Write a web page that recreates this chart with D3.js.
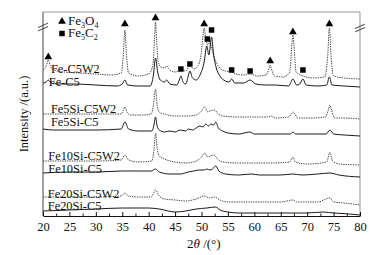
<!DOCTYPE html>
<html>
<head>
<meta charset="utf-8">
<script src="https://cdn.jsdelivr.net/npm/d3@7"></script>
<style>
  body { margin: 0; background: #fff; }
  svg { display: block; font-family: "Liberation Serif", "Times New Roman", serif; }
</style>
</head>
<body>
<svg width="377" height="255"></svg>
<script>
// XRD patterns, [2theta, intensity (a.u., stacked offset included)]
const feC5W2 = [[20,146],[20.6,150],[21,156],[21.4,150],[22,146],[24,144],[27,143],[30,142],[33,141],[34.8,143],[35.2,161],[35.5,186],[35.8,161],[36.2,143],[38,140],[40,142],[40.8,151],[41.1,176],[41.3,194],[41.5,176],[41.8,154],[42.3,149],[43,148],[43.4,150],[43.8,147],[45,144],[46.1,146],[47,145],[47.8,150],[48.6,147],[49.3,150],[49.9,161],[50.3,181],[50.5,188],[50.8,178],[51.2,171],[51.6,174],[52,166],[52.6,156],[53.3,149],[54.5,145],[55.7,144],[56.5,142],[58,141],[59.2,142],[60.5,140],[62.2,141],[62.7,146],[63,151],[63.3,146],[63.8,140],[65.5,139],[66.7,144],[67.1,171],[67.3,181],[67.5,171],[67.9,144],[69.2,140],[71,138],[73.3,139],[73.9,161],[74.2,188],[74.5,161],[75,140],[77,138],[80,137]];
const feC5 = [[20,133],[20.6,134],[21,136],[21.5,133],[23,132],[26,132],[30,131],[34,130],[35,132],[35.5,136],[36,131],[38,130],[40.3,130],[40.9,141],[41.3,158],[41.7,144],[42.2,136],[43,134],[43.4,136],[44,132],[45.3,131],[45.8,136],[46.1,140],[46.5,134],[47,132],[47.5,140],[47.8,145],[48.3,138],[49,136],[49.8,142],[50.5,154],[51,170],[51.4,161],[51.9,179],[52.3,161],[52.8,148],[53.5,140],[54.5,135],[55.2,134],[55.7,137],[56.3,133],[58,133],[59.2,136],[60.3,132],[62,131],[64,131],[66.5,130],[67.3,137],[68,131],[68.6,132],[69.2,137],[69.8,131],[72,130],[73.7,131],[74.2,139],[74.7,131],[77,130],[80,129]];
const fe5SiC5W2 = [[20,102],[25,102],[30,102],[34.8,102],[35.2,106],[35.5,109],[35.9,104],[36.5,101],[39,101],[40.5,102],[40.9,111],[41.3,127],[41.6,111],[42,104],[43,102],[45,100],[47,100],[49,101],[50,105],[50.6,109],[51.2,104],[51.6,105],[52.5,106],[53,103],[54,100],[57,99],[60,99],[62.5,99],[63.2,100],[64,98],[66.5,99],[67,102],[67.3,104],[67.7,102],[68.2,98],[71,98],[73.5,99],[74,106],[74.3,111],[74.6,106],[75.2,98],[77,98],[80,97]];
const fe5SiC5 = [[20,87],[22,86],[25,86],[30,86],[34.8,87],[35.5,94],[36.2,87],[38,85],[40.6,85],[41,91],[41.3,99],[41.6,90],[42,86],[43,84],[44,85],[45,84],[46,86],[47,85],[47.5,87],[48.3,86],[49,88],[49.7,90],[50.3,89],[50.8,92],[51.3,90],[51.8,92],[52.3,91],[52.7,94],[53.2,88],[54,85],[55,83],[57,82],[59.2,84],[60,82],[63,82],[66.8,82],[67.3,84],[67.8,82],[70,82],[73.6,82],[74.3,86],[75,82],[77,81],[80,80]];
const fe10SiC5W2 = [[20,55],[25,55],[30,55],[34.8,56],[35.5,61],[36.2,56],[38,54],[40.6,55],[41,66],[41.3,83],[41.6,68],[42,60],[43,57],[45,54],[47,53],[49,55],[50,59],[50.6,63],[51.2,59],[51.7,60],[52.4,61],[53,57],[54,54],[57,53],[60,53],[63,53],[66.7,54],[67.3,59],[67.8,54],[70,52],[73.7,54],[74.3,64],[74.8,55],[76,52],[80,51]];
const fe10SiC5 = [[20,43],[25,44],[30,44],[35,45],[38,45],[40.5,45],[41.3,47],[42,44],[44,42],[46,42],[47.5,44],[48.5,45],[49.5,46],[50.5,46],[51,47],[51.6,46],[52.1,47],[52.7,50],[53.3,45],[54.5,42],[57,41],[59.5,42],[61,41],[65,41],[67.3,42],[69,41],[72,42],[74.3,43],[76,41],[80,39]];
const fe20SiC5W2 = [[20,19],[25,19],[30,19],[34.8,20],[35.5,23],[36.2,20],[38,19],[40.5,19],[41.3,26],[42,20],[43,17],[45,16],[47,15],[49,17],[50.5,20],[51.5,18],[52.5,19],[53.5,16],[55,14],[60,14],[65,14],[67.3,16],[68,14],[72,14],[74.3,18],[75,14],[77,13],[80,11]];
const fe20SiC5 = [[20,5],[25,6],[30,7],[35,8],[38,8],[40,8],[42,7],[45,4],[47,5],[49,7],[51,8],[52.7,9],[53.5,6],[55,4],[57,3],[60,3],[65,3],[70,3],[73,4],[75,3],[78,2],[80,1]];

const seriesNames = ["Fe-C5W2","Fe-C5","Fe5Si-C5W2","Fe5Si-C5","Fe10Si-C5W2","Fe10Si-C5","Fe20Si-C5W2","Fe20Si-C5"];
const seriesData = [feC5W2, feC5, fe5SiC5W2, fe5SiC5, fe10SiC5W2, fe10SiC5, fe20SiC5W2, fe20SiC5];
// label anchor: [2theta, intensity] of text baseline start
const labelPos = [[21.5,143],[21.1,130],[21.5,103],[21.5,90],[21,56],[21,43],[20.9,18],[20.9,6]];

// phase markers
const fe3o4Peaks = [[21,159],[35.5,192],[41.3,198],[50.5,192],[63,155],[67.3,184],[74.2,192]];
const fe5c2Peaks = [[46.1,147],[47.8,152],[51.1,177],[51.9,186],[55.7,146],[59.2,145],[69.2,146]];

const xTicks = [20,25,30,35,40,45,50,55,60,65,70,75,80];

const svg = d3.select("svg");
const margin = {top: 12, right: 17, bottom: 39, left: 43};
const width = 377, height = 255;

const x = d3.scaleLinear().domain([20, 80]).range([margin.left, width - margin.right]);
const y = d3.scaleLinear().domain([0, 204]).range([height - margin.bottom, margin.top]);

// frame
svg.append("line").attr("x1", x(20)).attr("x2", x(80)).attr("y1", y(204)).attr("y2", y(204))
  .attr("stroke", "#999").attr("stroke-width", 1);
svg.append("line").attr("x1", x(80)).attr("x2", x(80)).attr("y1", y(204)).attr("y2", y(0))
  .attr("stroke", "#aaa").attr("stroke-width", 1.3);
svg.append("line").attr("x1", x(20)).attr("x2", x(20)).attr("y1", y(204)).attr("y2", y(0))
  .attr("stroke", "#444").attr("stroke-width", 1);

// minor ticks
svg.append("g")
  .attr("transform", `translate(0,${y(0)})`)
  .call(d3.axisBottom(x).tickValues(d3.range(22.5, 80, 5)).tickSize(-2.5).tickFormat(""))
  .call(g => g.select(".domain").remove())
  .selectAll("line").attr("stroke", "#222");

// major axis
const xAxis = svg.append("g")
  .attr("transform", `translate(0,${y(0)})`)
  .call(d3.axisBottom(x).tickValues(xTicks).tickSize(-4).tickSizeOuter(0).tickPadding(6));
xAxis.select(".domain").attr("stroke", "#111");
xAxis.selectAll("line").attr("stroke", "#111");
xAxis.selectAll("text").attr("font-size", 12.5).attr("fill", "#111")
  .attr("font-family", "Liberation Serif, Times New Roman, serif");

// axis break marks
[[x(20), 27], [x(80), 28]].forEach(([cx, cy]) => {
  [-1.7, 1.7].forEach(off => {
    svg.append("line")
      .attr("x1", cx - 5).attr("y1", cy + 2.2 + off)
      .attr("x2", cx + 5).attr("y2", cy - 2.2 + off)
      .attr("stroke", "#333").attr("stroke-width", 0.9);
  });
});

// curves
const line = d3.line().x(d => x(d[0])).y(d => y(d[1])).curve(d3.curveMonotoneX);
seriesData.forEach((data, i) => {
  const dotted = i % 2 === 0;
  svg.append("path")
    .datum(data)
    .attr("d", line)
    .attr("fill", "none")
    .attr("stroke", dotted ? "#4a4a4a" : "#1a1a1a")
    .attr("stroke-width", 1)
    .attr("stroke-dasharray", dotted ? "1.4,1" : null);
});

// series labels
svg.selectAll("text.series")
  .data(seriesNames)
  .join("text")
  .attr("class", "series")
  .attr("x", (d, i) => x(labelPos[i][0]))
  .attr("y", (d, i) => y(labelPos[i][1]))
  .attr("font-size", 12.4)
  .attr("fill", "#111")
  .text(d => d);

// phase markers
svg.selectAll("path.tri")
  .data(fe3o4Peaks)
  .join("path")
  .attr("class", "tri")
  .attr("transform", d => `translate(${x(d[0])},${y(d[1])})`)
  .attr("d", d3.symbol(d3.symbolTriangle, 26))
  .attr("fill", "#000");
svg.selectAll("path.sq")
  .data(fe5c2Peaks)
  .join("path")
  .attr("class", "sq")
  .attr("transform", d => `translate(${x(d[0])},${y(d[1])})`)
  .attr("d", d3.symbol(d3.symbolSquare, 30))
  .attr("fill", "#000");

// legend
const legend = [
  {sym: d3.symbolTriangle, size: 26, parts: ["Fe", "3", "O", "4"], cy: 21.5},
  {sym: d3.symbolSquare, size: 30, parts: ["Fe", "5", "C", "2"], cy: 33.5}
];
legend.forEach(l => {
  svg.append("path")
    .attr("transform", `translate(62,${l.cy})`)
    .attr("d", d3.symbol(l.sym, l.size))
    .attr("fill", "#000");
  const t = svg.append("text").attr("x", 68).attr("y", l.cy + 3.5).attr("font-size", 13).attr("fill", "#111");
  l.parts.forEach((p, k) => {
    const sub = k % 2 === 1;
    t.append("tspan")
      .attr("font-size", sub ? 8 : 13)
      .attr("dy", sub ? 2.5 : (k === 0 ? 0 : -2.5))
      .text(p);
  });
});

// axis titles
const xt = svg.append("text")
  .attr("x", 187).attr("y", 248)
  .attr("font-size", 13).attr("fill", "#111");
xt.append("tspan").text("2");
xt.append("tspan").attr("font-style", "italic").text("θ");
xt.append("tspan").text(" /(°)");

svg.append("text")
  .attr("transform", `translate(28,${(y(0) + y(204)) / 2}) rotate(-90)`)
  .attr("text-anchor", "middle")
  .attr("font-size", 12.5)
  .attr("fill", "#111")
  .text("Intensity /(a.u.)");
</script>
</body>
</html>
